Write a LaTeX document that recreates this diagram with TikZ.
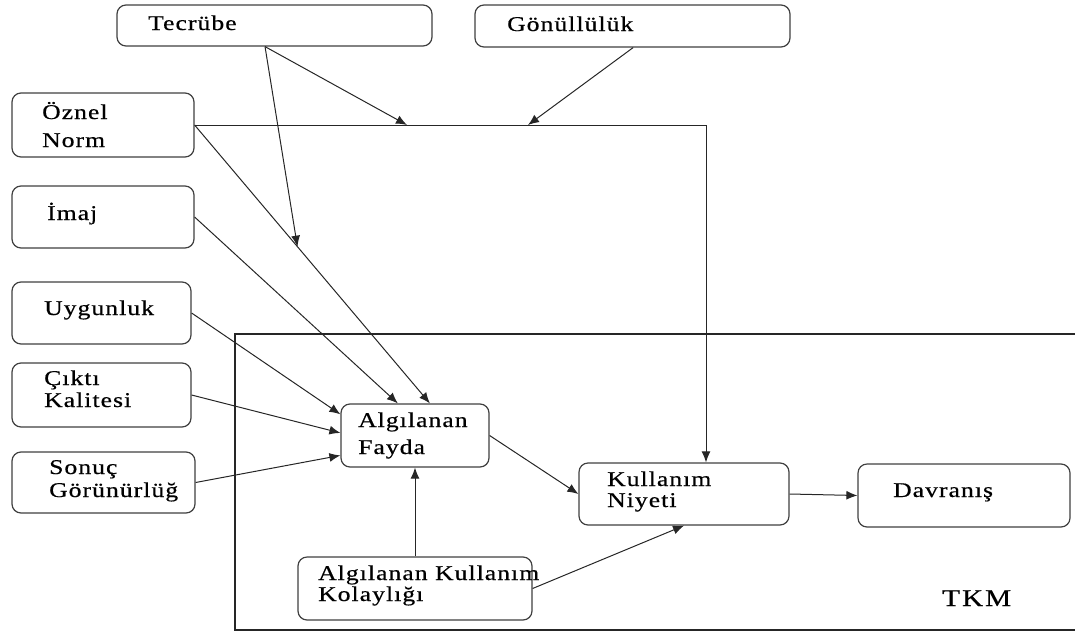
\documentclass[tikz,border=0pt]{standalone}
\usepackage{fontspec}
\setmainfont{Liberation Serif}[FakeStretch=1.22, LetterSpace=5, FakeBold=0.5]
\usetikzlibrary{arrows.meta,calc}
\begin{document}
\begin{tikzpicture}[x=1pt,y=-1pt,
  box/.style={draw=black!75, line width=1.2pt, rounded corners=9pt, inner sep=0pt, fill=white},
  txt/.style={inner sep=0pt, anchor=base west, font=\fontsize{21}{23}\selectfont},
  arr/.style={draw=black!85, line width=1pt, -{Latex[length=11pt,width=9pt]}},
  ln/.style={draw=black!85, line width=1pt}]
\useasboundingbox (0,0) rectangle (1075,632);
% TKM frame
\draw[draw=black!85, line width=1.2pt] (1080,334) -- (235,334) -- (235,630) -- (1080,630);
% boxes
\node[box, minimum width=315pt, minimum height=41pt] (tec) at (274.5,25.5) {};
\node[box, minimum width=315pt, minimum height=42pt] (gon) at (632.5,26) {};
\node[box, minimum width=182pt, minimum height=64pt] (ozn) at (103,125) {};
\node[box, minimum width=182pt, minimum height=62pt] (ima) at (103,217) {};
\node[box, minimum width=179pt, minimum height=62pt] (uyg) at (101.5,313) {};
\node[box, minimum width=179pt, minimum height=64pt] (cik) at (101.5,395) {};
\node[box, minimum width=183pt, minimum height=61pt] (son) at (103.5,482.5) {};
\node[box, minimum width=148pt, minimum height=63pt] (fay) at (415,435.5) {};
\node[box, minimum width=234pt, minimum height=63pt] (kol) at (415,588.5) {};
\node[box, minimum width=210pt, minimum height=62pt] (niy) at (684,494) {};
\node[box, minimum width=212pt, minimum height=63pt] (dav) at (964,495.5) {};
% texts
\node[txt] (tect) at (148,30) {Tecrübe};
\node[txt] (gont) at (507,31) {Gönüllülük};
\node[txt] (ozt1) at (42,119) {Öznel};
\node[txt] (ozt2) at (42,147) {Norm};
\node[txt] (imt) at (47,220) {İmaj};
\node[txt] (uyt) at (44,315) {Uygunluk};
\node[txt] (cit1) at (44,385) {Çıktı};
\node[txt] (cit2) at (44,407) {Kalitesi};
\node[txt] (sot1) at (49,474) {Sonuç};
\node[txt] (sot2) at (49,497) {Görünürlüğ};
\node[txt] (fat1) at (358,427) {Algılanan};
\node[txt] (fat2) at (358,454) {Fayda};
\node[txt] (kot1) at (318,580) {Algılanan Kullanım};
\node[txt] (kot2) at (318,601) {Kolaylığı};
\node[txt] (nit1) at (607,486) {Kullanım};
\node[txt] (nit2) at (607,507) {Niyeti};
\node[txt] (davt) at (893,497) {Davranış};
\node[txt, font=\fontsize{24}{26}\selectfont\addfontfeature{LetterSpace=8}] (tkm) at (942,606) {TKM};
% coordinates
\coordinate (tecout) at ($(tec.south west)!0.47!(tec.south east)$);
\coordinate (gonout) at ($(gon.south west)!0.502!(gon.south east)$);
\coordinate (corner) at (706,125);
\coordinate (m1) at (407,125);
\coordinate (m2) at (528,125);
\coordinate (fayA) at ($(fay.north west)!0.385!(fay.north east)$);
\coordinate (fayB) at ($(fay.north west)!0.60!(fay.north east)$);
\coordinate (m3) at ($(ozn.east)!0.437!(fayB)$);
\coordinate (fayU) at ($(fay.north west)!0.17!(fay.south west)$);
\coordinate (fayC) at ($(fay.north west)!0.46!(fay.south west)$);
\coordinate (fayS) at ($(fay.north west)!0.81!(fay.south west)$);
% connectors
\draw[arr] (ozn.east) -- (corner) -- (corner |- niy.north);
\draw[arr] (tecout) -- (m1);
\draw[arr] (gonout) -- (m2);
\draw[arr] (tecout) -- (m3);
\draw[arr] (ozn.east) -- (fayB);
\draw[arr] (ima.east) -- (fayA);
\draw[arr] (uyg.east) -- (fayU);
\draw[arr] (cik.east) -- (fayC);
\draw[arr] (son.east) -- (fayS);
\draw[arr] (kol.north) -- (fay.south);
\draw[arr] (fay.east) -- (niy.west);
\draw[arr] (kol.east) -- (niy.south);
\draw[arr] (niy.east) -- (dav.west);
\end{tikzpicture}
\end{document}
